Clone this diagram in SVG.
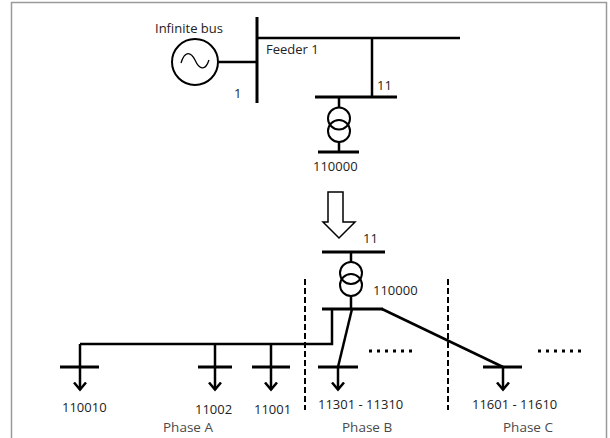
<svg xmlns="http://www.w3.org/2000/svg" width="610" height="438" viewBox="0 0 610 438">
<defs>
<style>
.ln{stroke:#000;stroke-width:2.5;fill:none;stroke-linecap:butt}
.bus{stroke:#000;stroke-width:3;fill:none}
.dash{stroke:#000;stroke-width:2;stroke-dasharray:6 3;fill:none}
.t{font-family:"Open Sans","Noto Sans",sans-serif;font-size:13px;fill:#222}
.ph{font-family:"Open Sans","Noto Sans",sans-serif;font-size:13.5px;fill:#4a4a4a}
.dots{stroke:#000;stroke-width:3;stroke-dasharray:3 5;fill:none}
</style>
<marker id="ah" viewBox="0 0 10 14" refX="8.5" refY="7" markerWidth="10" markerHeight="14" markerUnits="userSpaceOnUse" orient="auto">
<path d="M1,1 L8,7 L1,13" stroke="#000" stroke-width="2.5" fill="none"/>
</marker>
</defs>
<rect x="0" y="0" width="610" height="438" fill="#fff"/>
<path d="M11.5,440 L11.5,2.5 L606.5,2.5 L606.5,440" fill="none" stroke="#9a9a9a" stroke-width="1.5"/>

<g id="connectors">
<line class="ln" x1="219" y1="62" x2="257" y2="62"/>
<line class="ln" x1="257" y1="38" x2="460" y2="38"/>
<line class="ln" x1="372" y1="38" x2="372" y2="97"/>
<line class="ln" x1="339" y1="97" x2="339" y2="107"/>
<line class="ln" x1="339" y1="142" x2="339" y2="152"/>
<line class="ln" x1="351" y1="252" x2="351" y2="262"/>
<line class="ln" x1="351" y1="296" x2="351" y2="309"/>
<polyline class="ln" points="332,309 332,344 80,344"/>
<line class="ln" x1="80" y1="344" x2="80" y2="390" marker-end="url(#ah)"/>
<line class="ln" x1="215" y1="344" x2="215" y2="390" marker-end="url(#ah)"/>
<line class="ln" x1="271" y1="344" x2="271" y2="390" marker-end="url(#ah)"/>
<line class="ln" x1="352" y1="309" x2="338" y2="367"/>
<line class="ln" x1="338" y1="367" x2="338" y2="390" marker-end="url(#ah)"/>
<line class="ln" x1="382" y1="309" x2="503" y2="367"/>
<line class="ln" x1="503" y1="367" x2="503" y2="390" marker-end="url(#ah)"/>
<path d="M328,192 L343,192 L343,222 L355,222 L339,238 L323,222 L328,222 Z" fill="#fff" stroke="#000" stroke-width="1.5"/>
</g>

<g id="generator">
<circle cx="195" cy="62" r="23" fill="#fff" stroke="#000" stroke-width="2"/>
<path d="M181,63 C185,50 191,52 195,60 C199,69 205,72 209,60" fill="none" stroke="#000" stroke-width="1.3"/>
<text class="t" x="155" y="33">Infinite bus</text>
</g>

<g id="bus1">
<line class="bus" x1="257" y1="17" x2="257" y2="103"/>
<text class="t" x="234" y="98">1</text>
<text class="t" x="266" y="54">Feeder 1</text>
</g>

<g id="bus11">
<line class="bus" x1="315" y1="97" x2="397" y2="97"/>
<text class="t" x="377" y="90">11</text>
</g>

<g id="transformer1">
<circle cx="339" cy="118.5" r="11" fill="none" stroke="#000" stroke-width="2"/>
<circle cx="339" cy="131" r="11" fill="none" stroke="#000" stroke-width="2"/>
<line class="bus" x1="318" y1="152" x2="359" y2="152"/>
<text class="t" x="313" y="171">110000</text>
</g>

<g id="bus11b">
<line class="bus" x1="322" y1="252" x2="385" y2="252"/>
<text class="t" x="363" y="243">11</text>
</g>

<g id="transformer2">
<circle cx="351" cy="273" r="11" fill="none" stroke="#000" stroke-width="2"/>
<circle cx="351" cy="285" r="11" fill="none" stroke="#000" stroke-width="2"/>
<line class="bus" x1="322" y1="309" x2="383" y2="309"/>
<text class="t" x="373" y="295">110000</text>
</g>

<g id="dividers">
<line class="dash" x1="305" y1="279" x2="305" y2="410"/>
<line class="dash" x1="448" y1="279" x2="448" y2="410"/>
</g>

<g id="load110010">
<line class="bus" x1="60" y1="367" x2="99" y2="367"/>
<text class="t" x="62" y="412">110010</text>
</g>
<g id="load11002">
<line class="bus" x1="198" y1="367" x2="232" y2="367"/>
<text class="t" x="195" y="414">11002</text>
</g>
<g id="load11001">
<line class="bus" x1="252" y1="367" x2="290" y2="367"/>
<text class="t" x="254" y="414">11001</text>
</g>
<g id="loadB">
<line class="bus" x1="318" y1="367" x2="358" y2="367"/>
<text class="t" x="318" y="409">11301 - 11310</text>
<line class="dots" x1="369" y1="351" x2="416" y2="351"/>
</g>
<g id="loadC">
<line class="bus" x1="483" y1="367" x2="522" y2="367"/>
<text class="t" x="472" y="409">11601 - 11610</text>
<line class="dots" x1="538" y1="351" x2="585" y2="351"/>
</g>

<g id="phases">
<text class="ph" x="163" y="432">Phase A</text>
<text class="ph" x="342" y="432">Phase B</text>
<text class="ph" x="503" y="432">Phase C</text>
</g>
</svg>
